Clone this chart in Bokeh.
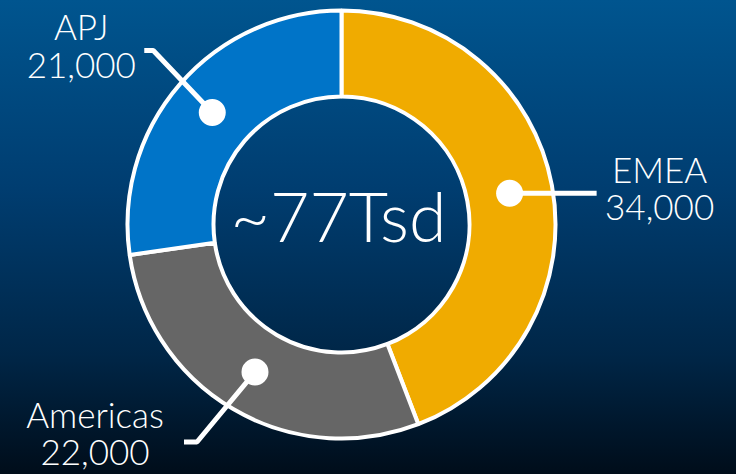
import math
from bokeh.plotting import figure
from bokeh.models import Range1d, ColumnDataSource, GlobalInlineStyleSheet
from bokeh.core.properties import value
from bokeh.embed import file_html
from bokeh.resources import INLINE

# ---- data ----
regions = ["EMEA", "Americas", "APJ"]
counts = [34000, 22000, 21000]
colors = ["#F0AB00", "#666666", "#0074C8"]
center_label = "~77Tsd"

# ---- layout ----
W, H = 736, 474
CX, CY = 341, H - 224
R_IN, R_OUT = 128, 214
R_MID = (R_IN + R_OUT) / 2
# leader: elbow offset from dot, then horizontal tail
leader_elbow = {"EMEA": (87, 0), "Americas": (-58, -70), "APJ": (-59, 62)}
leader_tail = {"EMEA": 0, "Americas": -13, "APJ": -9}
# label centre x offset and extra vertical nudge relative to leader end
label_dx = {"EMEA": 63, "Americas": -89, "APJ": -63}
label_nudge = {"EMEA": 0, "Americas": 4, "APJ": 0}
LBL_SIZE = 35
CTR_SIZE = 68
BASE_FIX = 0.41  # compensation for renderer baseline shift (in em)
NAME_DY = 10 + BASE_FIX * LBL_SIZE
VAL_DY = -29 + BASE_FIX * LBL_SIZE
FONT = value("Lato Light")

total = sum(counts)
starts, ends, mids = [], [], []
cum = 0
for c in counts:
    a0 = math.pi / 2 - 2 * math.pi * cum / total
    cum += c
    a1 = math.pi / 2 - 2 * math.pi * cum / total
    starts.append(a0)
    ends.append(a1)
    mids.append((a0 + a1) / 2)

src = ColumnDataSource(dict(region=regions, count=counts, color=colors,
                            start=starts, end=ends))

p = figure(width=W, height=H, output_backend="svg", toolbar_location=None,
           x_range=Range1d(0, W), y_range=Range1d(0, H), min_border=0,
           background_fill_color=None, border_fill_color=None,
           outline_line_color=None,
           styles={"background": "linear-gradient(to bottom, #00558F 0%, #003D70 40%, #002647 75%, #000D1A 100%)"})
p.stylesheets = [GlobalInlineStyleSheet(css="html, body {margin:0; padding:0; overflow:hidden; background:#000D1A;}")]
p.axis.visible = False
p.grid.visible = False

p.annular_wedge(x=CX, y=CY, inner_radius=R_IN, outer_radius=R_OUT,
                start_angle="start", end_angle="end", direction="clock",
                fill_color="color", line_color="white", line_width=4, source=src)

dot_x, dot_y = [], []
lx, ly = [], []
name_x, name_y, val_x, val_y, val_txt = [], [], [], [], []
for r, c, m in zip(regions, counts, mids):
    dx = CX + R_MID * math.cos(m)
    dy = CY + R_MID * math.sin(m)
    ex, ey = leader_elbow[r]
    elbow = (dx + ex, dy + ey)
    end = (elbow[0] + leader_tail[r], elbow[1])
    dot_x.append(dx); dot_y.append(dy)
    lx.append([dx, elbow[0], end[0]]); ly.append([dy, elbow[1], end[1]])
    name_x.append(end[0] + label_dx[r]); name_y.append(end[1] + NAME_DY + label_nudge[r])
    val_x.append(end[0] + label_dx[r]); val_y.append(end[1] + VAL_DY + label_nudge[r])
    val_txt.append(f"{c:,}")

p.multi_line(xs=lx, ys=ly, line_color="white", line_width=5)
p.scatter(x=dot_x, y=dot_y, size=27, fill_color="white", line_color=None)

p.text(x=name_x, y=name_y, text=regions, text_align="center",
       text_baseline="alphabetic", text_color="white", text_font=FONT,
       text_font_size=f"{LBL_SIZE}px")
p.text(x=val_x, y=val_y, text=val_txt, text_align="center",
       text_baseline="alphabetic", text_color="white", text_font=FONT,
       text_font_size=f"{LBL_SIZE}px")
p.text(x=[CX - 3], y=[H - 243 + BASE_FIX * CTR_SIZE], text=[center_label],
       text_align="center", text_baseline="alphabetic", text_color="white",
       text_font=FONT, text_font_size=f"{CTR_SIZE}px")

open("out.html", "w").write(file_html(p, INLINE))
